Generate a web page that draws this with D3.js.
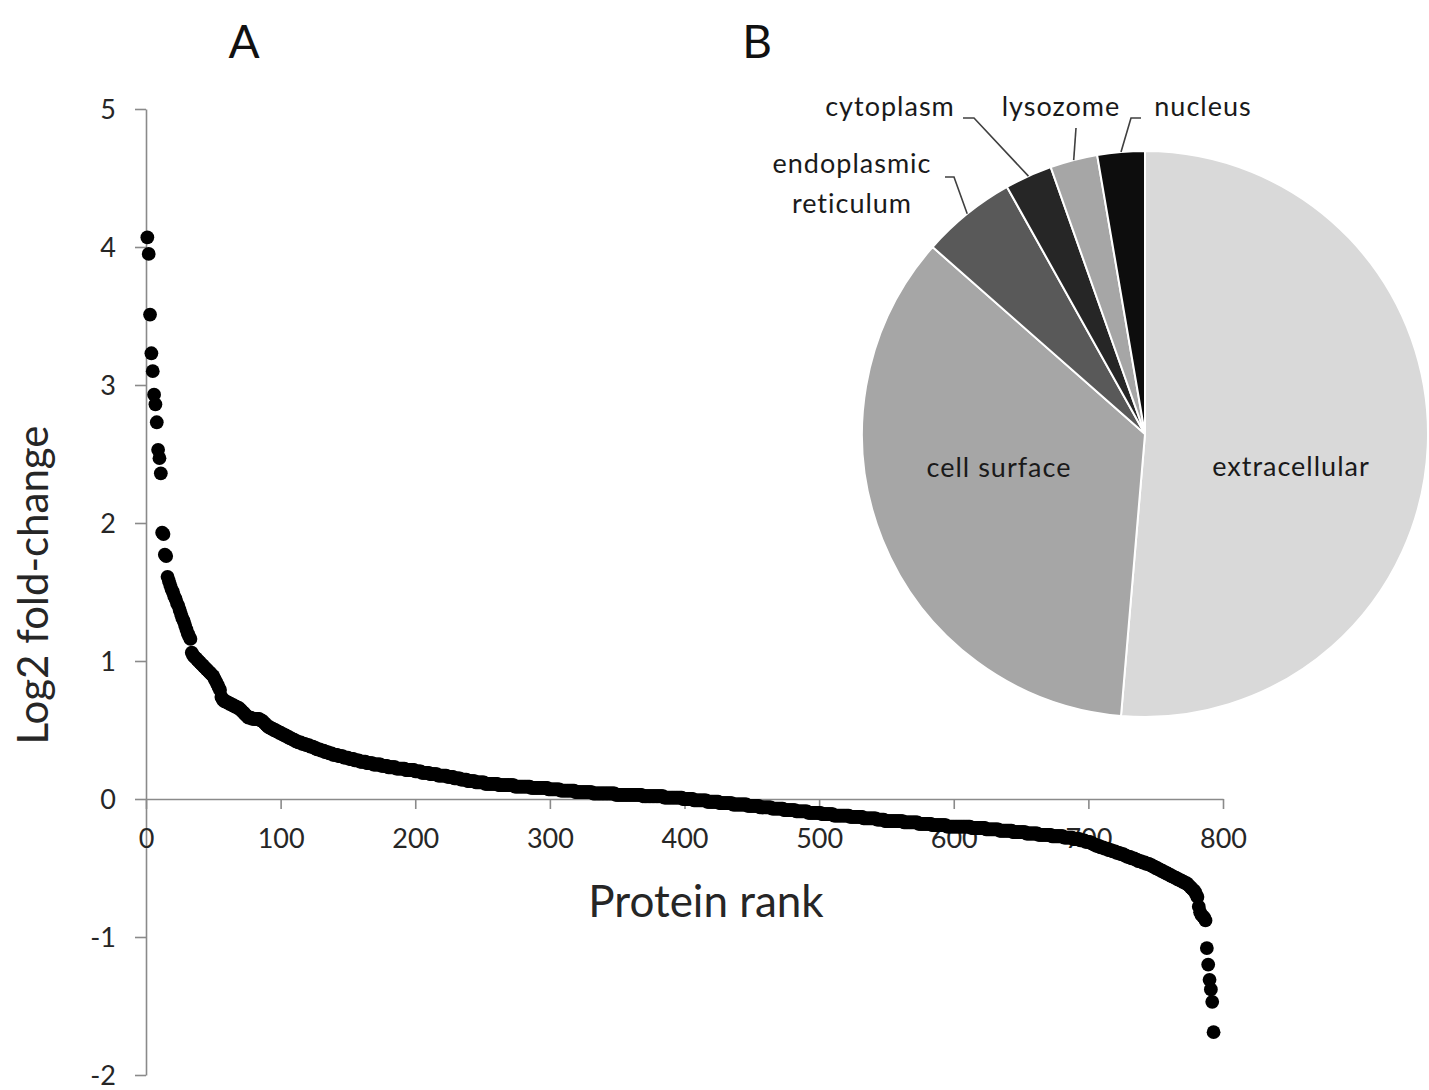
<!DOCTYPE html>
<html>
<head>
<meta charset="utf-8">
<script src="https://cdn.jsdelivr.net/npm/d3@7/dist/d3.min.js"></script>
<style>
  html, body { margin: 0; padding: 0; background: #fff; }
  svg { display: block; }
  text { font-family: Lato, "Open Sans", sans-serif; }
</style>
</head>
<body>
<svg id="chart" width="1429" height="1090"></svg>
<script>
// ---------------- DATA ----------------
// Panel A: log2 fold-change of each protein, ordered by rank (1..793)
const log2FC = [
4.07,3.95,3.51,3.23,3.10,2.93,2.86,2.73,2.53,2.47,
2.36,1.93,1.92,1.77,1.76,1.61,1.58,1.55,1.52,1.50,
1.47,1.45,1.42,1.40,1.37,1.34,1.31,1.29,1.26,1.23,
1.20,1.18,1.16,1.06,1.04,1.03,1.02,1.01,1.00,0.99,
0.98,0.97,0.96,0.95,0.94,0.93,0.92,0.91,0.90,0.89,
0.87,0.85,0.83,0.81,0.79,0.74,0.72,0.71,0.71,0.70,
0.70,0.69,0.69,0.68,0.68,0.67,0.67,0.66,0.66,0.65,
0.64,0.63,0.62,0.61,0.60,0.59,0.59,0.59,0.58,0.58,
0.58,0.58,0.58,0.58,0.57,0.57,0.56,0.55,0.54,0.53,
0.52,0.52,0.51,0.51,0.50,0.50,0.49,0.49,0.48,0.48,
0.47,0.47,0.46,0.46,0.45,0.45,0.44,0.44,0.43,0.43,
0.42,0.42,0.41,0.41,0.41,0.40,0.40,0.40,0.39,0.39,
0.39,0.38,0.38,0.38,0.37,0.37,0.36,0.36,0.36,0.35,
0.35,0.35,0.34,0.34,0.34,0.33,0.33,0.33,0.32,0.32,
0.32,0.32,0.31,0.31,0.31,0.31,0.30,0.30,0.30,0.30,
0.29,0.29,0.29,0.29,0.28,0.28,0.28,0.28,0.27,0.27,
0.27,0.27,0.27,0.26,0.26,0.26,0.26,0.26,0.25,0.25,
0.25,0.25,0.25,0.25,0.24,0.24,0.24,0.24,0.24,0.23,
0.23,0.23,0.23,0.23,0.23,0.22,0.22,0.22,0.22,0.22,
0.22,0.22,0.21,0.21,0.21,0.21,0.21,0.21,0.21,0.20,
0.20,0.20,0.20,0.20,0.19,0.19,0.19,0.19,0.19,0.19,
0.18,0.18,0.18,0.18,0.18,0.18,0.17,0.17,0.17,0.17,
0.17,0.17,0.17,0.16,0.16,0.16,0.16,0.16,0.15,0.15,
0.15,0.15,0.15,0.14,0.14,0.14,0.14,0.14,0.13,0.13,
0.13,0.13,0.13,0.13,0.12,0.12,0.12,0.12,0.12,0.12,
0.12,0.11,0.11,0.11,0.11,0.11,0.11,0.11,0.11,0.11,
0.11,0.10,0.10,0.10,0.10,0.10,0.10,0.10,0.10,0.10,
0.10,0.10,0.10,0.09,0.09,0.09,0.09,0.09,0.09,0.09,
0.09,0.09,0.09,0.09,0.09,0.08,0.08,0.08,0.08,0.08,
0.08,0.08,0.08,0.08,0.08,0.08,0.08,0.08,0.07,0.07,
0.07,0.07,0.07,0.07,0.07,0.07,0.07,0.06,0.06,0.06,
0.06,0.06,0.06,0.06,0.06,0.06,0.06,0.06,0.05,0.05,
0.05,0.05,0.05,0.05,0.05,0.05,0.05,0.05,0.05,0.05,
0.05,0.04,0.04,0.04,0.04,0.04,0.04,0.04,0.04,0.04,
0.04,0.04,0.04,0.04,0.04,0.04,0.04,0.04,0.03,0.03,
0.03,0.03,0.03,0.03,0.03,0.03,0.03,0.03,0.03,0.03,
0.03,0.03,0.03,0.03,0.03,0.03,0.03,0.03,0.02,0.02,
0.02,0.02,0.02,0.02,0.02,0.02,0.02,0.02,0.02,0.02,
0.02,0.02,0.02,0.02,0.01,0.01,0.01,0.01,0.01,0.01,
0.01,0.01,0.01,0.01,0.01,0.01,0.01,0.01,0.00,0.00,
0.00,0.00,0.00,0.00,0.00,0.00,-0.01,-0.01,-0.01,-0.01,
-0.01,-0.01,-0.01,-0.01,-0.01,-0.01,-0.02,-0.02,-0.02,-0.02,
-0.02,-0.02,-0.02,-0.02,-0.02,-0.03,-0.03,-0.03,-0.03,-0.03,
-0.03,-0.03,-0.03,-0.03,-0.03,-0.04,-0.04,-0.04,-0.04,-0.04,
-0.04,-0.04,-0.04,-0.04,-0.04,-0.04,-0.05,-0.05,-0.05,-0.05,
-0.05,-0.05,-0.05,-0.05,-0.05,-0.06,-0.06,-0.06,-0.06,-0.06,
-0.06,-0.06,-0.06,-0.06,-0.07,-0.07,-0.07,-0.07,-0.07,-0.07,
-0.07,-0.07,-0.07,-0.08,-0.08,-0.08,-0.08,-0.08,-0.08,-0.08,
-0.08,-0.08,-0.09,-0.09,-0.09,-0.09,-0.09,-0.09,-0.09,-0.09,
-0.09,-0.10,-0.10,-0.10,-0.10,-0.10,-0.10,-0.10,-0.10,-0.10,
-0.10,-0.11,-0.11,-0.11,-0.11,-0.11,-0.11,-0.11,-0.11,-0.11,
-0.12,-0.12,-0.12,-0.12,-0.12,-0.12,-0.12,-0.12,-0.12,-0.12,
-0.12,-0.12,-0.13,-0.13,-0.13,-0.13,-0.13,-0.13,-0.13,-0.13,
-0.13,-0.13,-0.14,-0.14,-0.14,-0.14,-0.14,-0.14,-0.14,-0.14,
-0.14,-0.14,-0.15,-0.15,-0.15,-0.15,-0.15,-0.15,-0.16,-0.16,
-0.16,-0.16,-0.16,-0.16,-0.16,-0.16,-0.16,-0.16,-0.16,-0.16,
-0.16,-0.16,-0.17,-0.17,-0.17,-0.17,-0.17,-0.17,-0.17,-0.17,
-0.17,-0.17,-0.17,-0.18,-0.18,-0.18,-0.18,-0.18,-0.18,-0.18,
-0.18,-0.18,-0.18,-0.19,-0.19,-0.19,-0.19,-0.19,-0.19,-0.19,
-0.19,-0.19,-0.19,-0.19,-0.20,-0.20,-0.20,-0.20,-0.20,-0.20,
-0.20,-0.20,-0.20,-0.20,-0.20,-0.20,-0.20,-0.20,-0.20,-0.20,
-0.20,-0.20,-0.21,-0.21,-0.21,-0.21,-0.21,-0.21,-0.21,-0.21,
-0.21,-0.21,-0.21,-0.22,-0.22,-0.22,-0.22,-0.22,-0.22,-0.22,
-0.22,-0.22,-0.22,-0.23,-0.23,-0.23,-0.23,-0.23,-0.23,-0.23,
-0.23,-0.23,-0.23,-0.24,-0.24,-0.24,-0.24,-0.24,-0.24,-0.24,
-0.24,-0.24,-0.24,-0.25,-0.25,-0.25,-0.25,-0.25,-0.25,-0.25,
-0.25,-0.25,-0.26,-0.26,-0.26,-0.26,-0.26,-0.26,-0.26,-0.26,
-0.26,-0.26,-0.27,-0.27,-0.27,-0.27,-0.27,-0.27,-0.27,-0.27,
-0.27,-0.28,-0.28,-0.28,-0.28,-0.28,-0.28,-0.28,-0.29,-0.29,
-0.29,-0.29,-0.29,-0.30,-0.30,-0.30,-0.30,-0.31,-0.31,-0.31,
-0.31,-0.32,-0.32,-0.33,-0.33,-0.34,-0.34,-0.34,-0.35,-0.35,
-0.35,-0.36,-0.36,-0.36,-0.37,-0.37,-0.37,-0.38,-0.38,-0.38,
-0.39,-0.39,-0.39,-0.40,-0.40,-0.40,-0.41,-0.41,-0.42,-0.42,
-0.42,-0.43,-0.43,-0.43,-0.44,-0.44,-0.45,-0.45,-0.45,-0.46,
-0.46,-0.46,-0.47,-0.47,-0.47,-0.48,-0.48,-0.49,-0.49,-0.50,
-0.50,-0.51,-0.51,-0.52,-0.52,-0.53,-0.53,-0.54,-0.54,-0.55,
-0.55,-0.56,-0.56,-0.57,-0.57,-0.58,-0.58,-0.59,-0.59,-0.60,
-0.60,-0.61,-0.61,-0.62,-0.63,-0.64,-0.65,-0.66,-0.67,-0.69,
-0.71,-0.78,-0.82,-0.84,-0.85,-0.86,-0.88,-1.08,-1.20,-1.31,
-1.38,-1.47,-1.69
];
const xTicks = [0, 100, 200, 300, 400, 500, 600, 700, 800];
const yTicks = [-2, -1, 0, 1, 2, 3, 4, 5];

// Panel B: subcellular location counts (clockwise from 12 o'clock)
const locations = ["extracellular", "cell surface", "endoplasmic reticulum", "cytoplasm", "lysozome", "nucleus"];
const locationCounts = [19, 13, 2, 1, 1, 1];
const locationColors = ["#d9d9d9", "#a6a6a6", "#595959", "#262626", "#a6a6a6", "#0d0d0d"];

// ---------------- LAYOUT ----------------
const svg = d3.select("#chart");
const axisColor = "#8a8a8a";
const textColor = "#262626";
const plainFmt = d => String(d);   // hyphen-minus like the original

const x = d3.scaleLinear().domain([0, 800]).range([146, 1223]);
const y = d3.scaleLinear().domain([-2, 5]).range([1075, 109]);

// Y axis
const gy = svg.append("g")
  .attr("transform", `translate(${x(0)},0)`)
  .call(d3.axisLeft(y).tickValues(yTicks).tickFormat(plainFmt).tickSize(11).tickSizeOuter(0).tickPadding(19));
gy.select(".domain").attr("stroke", axisColor).attr("stroke-width", 1.6);
gy.selectAll(".tick line").attr("stroke", axisColor).attr("stroke-width", 1.6);
gy.selectAll(".tick text").attr("fill", textColor).style("font-size", "27px").attr("dy", "0.36em");

// X axis (at y = 0)
const gx = svg.append("g")
  .attr("transform", `translate(0,${y(0)})`)
  .call(d3.axisBottom(x).tickValues(xTicks).tickFormat(plainFmt).tickSize(10).tickSizeOuter(0).tickPadding(20));
gx.select(".domain").attr("stroke", axisColor).attr("stroke-width", 1.6);
gx.selectAll(".tick line").attr("stroke", axisColor).attr("stroke-width", 1.6);
gx.selectAll(".tick text").attr("fill", textColor).style("font-size", "27px");

// Points
svg.append("g")
  .selectAll("circle")
  .data(log2FC)
  .join("circle")
  .attr("cx", (d, i) => x(i + 1))
  .attr("cy", d => y(d))
  .attr("r", 6.9)
  .attr("fill", "#000");

// Axis titles
svg.append("text")
  .attr("x", 706).attr("y", 917)
  .attr("text-anchor", "middle")
  .attr("fill", textColor)
  .style("font-size", "44px")
  .text("Protein rank");

svg.append("text")
  .attr("transform", "translate(48,585) rotate(-90)")
  .attr("text-anchor", "middle")
  .attr("fill", textColor)
  .style("font-size", "42px")
  .text("Log2 fold-change");

// Panel letters
svg.append("text").attr("x", 244).attr("y", 58).attr("text-anchor", "middle")
  .attr("fill", "#111").style("font-size", "46px").text("A");
svg.append("text").attr("x", 757).attr("y", 58).attr("text-anchor", "middle")
  .attr("fill", "#111").style("font-size", "46px").text("B");

// ---------------- PIE ----------------
const cx = 1145, cy = 434, R = 283;
const pie = d3.pie().sort(null).value(d => d)(locationCounts);
const arc = d3.arc().innerRadius(0).outerRadius(R);
const gp = svg.append("g").attr("transform", `translate(${cx},${cy})`);
gp.selectAll("path")
  .data(pie)
  .join("path")
  .attr("d", arc)
  .attr("fill", (d, i) => locationColors[i])
  .attr("stroke", "#fff")
  .attr("stroke-width", 2);

const labelFont = "27px";
const labelSpacing = "1px";

// Inside labels
const inside = [
  { i: 0, x: 1291, y: 476 },
  { i: 1, x: 999, y: 477 }
];
inside.forEach(l => {
  svg.append("text").attr("x", l.x).attr("y", l.y).attr("text-anchor", "middle")
    .attr("fill", "#1a1a1a").style("font-size", labelFont).style("letter-spacing", labelSpacing)
    .text(locations[l.i]);
});

// Outside labels with leader lines
const edgePoint = d => {
  const a = (d.startAngle + d.endAngle) / 2;
  return [cx + R * Math.sin(a), cy - R * Math.cos(a)];
};
const outside = [
  { i: 2, lines: ["endoplasmic", "reticulum"], x: 852, ys: [173, 213], elbow: [[945, 177], [954, 177]] },
  { i: 3, lines: ["cytoplasm"], x: 890, ys: [116], elbow: [[963, 118], [974, 118]] },
  { i: 4, lines: ["lysozome"], x: 1061, ys: [116], elbow: [[1076, 128]] },
  { i: 5, lines: ["nucleus"], x: 1203, ys: [116], elbow: [[1141, 118], [1131, 118]] }
];
const lineGen = d3.line();
outside.forEach(l => {
  l.lines.forEach((t, k) => {
    svg.append("text").attr("x", l.x).attr("y", l.ys[k]).attr("text-anchor", "middle")
      .attr("fill", "#1a1a1a").style("font-size", labelFont).style("letter-spacing", labelSpacing)
      .text(t);
  });
  const pts = l.elbow.concat([edgePoint(pie[l.i])]);
  svg.append("path").attr("d", lineGen(pts))
    .attr("fill", "none").attr("stroke", "#404040").attr("stroke-width", 1.6);
});
</script>
</body>
</html>
